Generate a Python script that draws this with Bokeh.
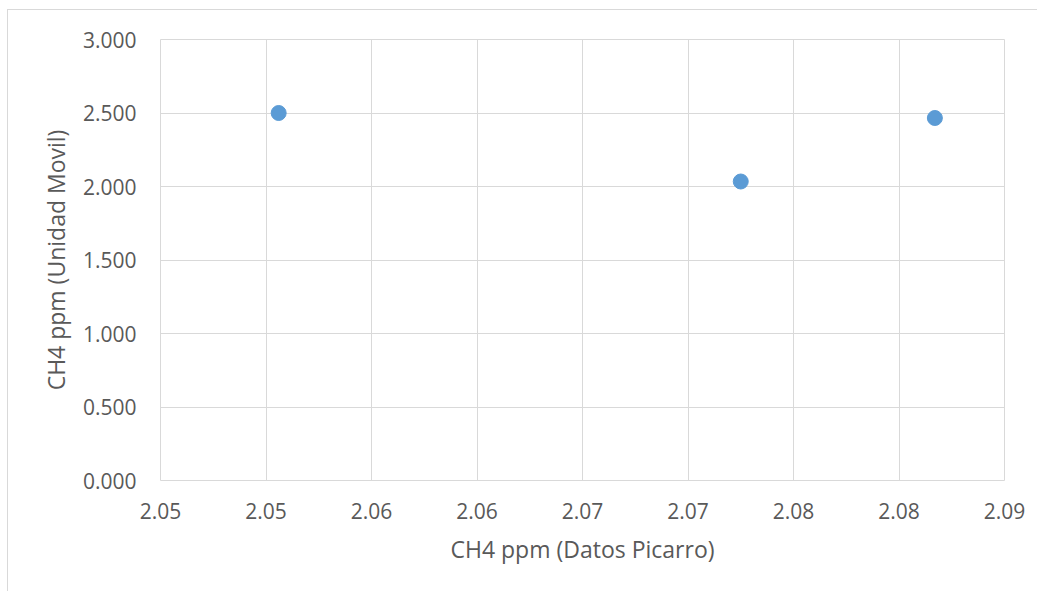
from bokeh.plotting import figure
from bokeh.models import Range1d, FixedTicker
from bokeh.embed import file_html
from bokeh.resources import INLINE

# Data
picarro = [2.0506, 2.0725, 2.0817]
unidad_movil = [2.500, 2.034, 2.466]

x_ticks = [2.045, 2.050, 2.055, 2.060, 2.065, 2.070, 2.075, 2.080, 2.085]
x_tick_labels = ["2.05", "2.05", "2.06", "2.06", "2.07", "2.07", "2.08", "2.08", "2.09"]
y_ticks = [0.0, 0.5, 1.0, 1.5, 2.0, 2.5, 3.0]
y_tick_labels = ["0.000", "0.500", "1.000", "1.500", "2.000", "2.500", "3.000"]

x_title = "CH4 ppm (Datos Picarro)"
y_title = "CH4 ppm (Unidad Movil)"

FONT = "Open Sans"
TXT = "#595959"
GRID = "#d9d9d9"

p = figure(width=1030, height=582, output_backend="svg", toolbar_location=None,
           x_range=Range1d(x_ticks[0], x_ticks[-1]), y_range=Range1d(y_ticks[0], y_ticks[-1]),
           min_border_left=152, min_border_top=29, min_border_right=34, min_border_bottom=112)

p.scatter(picarro, unidad_movil, size=15, color="#5b9bd5", line_color="#5b9bd5")

p.xaxis.ticker = FixedTicker(ticks=x_ticks)
p.yaxis.ticker = FixedTicker(ticks=y_ticks)
p.xaxis.major_label_overrides = dict(zip(x_ticks, x_tick_labels))
p.yaxis.major_label_overrides = dict(zip(y_ticks, y_tick_labels))

for ax in (p.xaxis[0], p.yaxis[0]):
    ax.axis_line_color = None
    ax.major_tick_line_color = None
    ax.minor_tick_line_color = None
    ax.major_tick_out = 0
    ax.major_tick_in = 0
    ax.minor_tick_out = 0
    ax.minor_tick_in = 0
    ax.major_label_text_font = FONT
    ax.major_label_text_font_size = "21px"
    ax.major_label_text_color = TXT
    ax.axis_label_text_font = FONT
    ax.axis_label_text_font_size = "23px"
    ax.axis_label_text_font_style = "normal"
    ax.axis_label_text_color = TXT

p.xaxis.axis_label = x_title
p.yaxis.axis_label = y_title
p.xaxis.major_label_standoff = 22
p.xaxis.axis_label_standoff = 11
p.yaxis.major_label_standoff = 24
p.yaxis.axis_label_standoff = 8

p.xgrid.grid_line_color = GRID
p.ygrid.grid_line_color = GRID
p.grid.grid_line_width = 1
p.outline_line_color = GRID
p.background_fill_color = "white"
p.border_fill_color = "white"
p.styles = {"margin-left": "7px", "margin-top": "9px",
            "border-left": "1px solid #d9d9d9", "border-top": "1px solid #d9d9d9"}

open("out.html", "w").write(file_html(p, INLINE))
